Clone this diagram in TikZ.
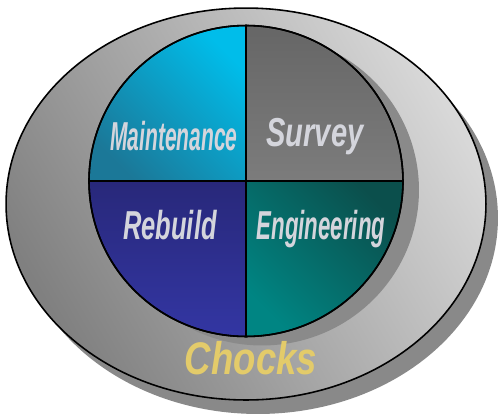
\documentclass[tikz,border=0pt]{standalone}
\usepackage{fontspec}
\setmainfont{Liberation Sans}
\usetikzlibrary{shapes}
\definecolor{ringdark}{HTML}{808080}
\definecolor{ringlight}{HTML}{D8D8D8}
\definecolor{dropgray}{HTML}{898989}
\definecolor{circshade}{HTML}{8A8A8A}
\definecolor{maintlight}{HTML}{00BDEA}
\definecolor{maintdark}{HTML}{1B7898}
\definecolor{survtop}{HTML}{666666}
\definecolor{survbot}{HTML}{7C7C7C}
\definecolor{rebtop}{HTML}{28287A}
\definecolor{rebbot}{HTML}{3336A3}
\definecolor{engtop}{HTML}{0B4F4C}
\definecolor{engbot}{HTML}{008583}
\definecolor{silver}{HTML}{D4D5DC}
\definecolor{gold}{HTML}{E3CB6A}
\tikzstyle{ring} = [draw=black, line width=0.9pt, top color=ringlight, bottom color=ringdark, shading angle=-60]
\tikzstyle{drop} = [fill=dropgray]
\tikzstyle{quad} = [draw=black, line width=0.9pt]
\tikzstyle{word} = [font=\fontsize{23}{25}\selectfont\bfseries\itshape, text=silver, inner sep=0pt]
\tikzstyle{title} = [word, font=\fontsize{26}{28}\selectfont\bfseries\itshape, text=gold]
\newcommand{\squeeze}[2]{\scalebox{#1}[1]{#2}}

\begin{document}
\begin{tikzpicture}[x=0.02cm,y=0.02cm]
  \useasboundingbox (0,0) rectangle (499,414);

  % base ellipse with its drop shadow
  \fill[drop] (258,196) ellipse [x radius=4.8cm, y radius=3.92cm];
  \path[ring] (246,210) ellipse [x radius=4.8cm, y radius=3.92cm];

  % the disc
  \coordinate (c) at (246,233);
  \fill[circshade] (262,224) ellipse [x radius=3.14cm, y radius=3.11cm];
  \path[quad, top color=maintlight, bottom color=maintdark, shading angle=-45]
    (c) -- ++(-157,0) arc[start angle=180, end angle=90, x radius=3.14cm, y radius=3.11cm] -- cycle;
  \path[quad, top color=survtop, bottom color=survbot]
    (c) -- ++(0,155.5) arc[start angle=90, end angle=0, x radius=3.14cm, y radius=3.11cm] -- cycle;
  \path[quad, top color=rebtop, bottom color=rebbot]
    (c) -- ++(-157,0) arc[start angle=180, end angle=270, x radius=3.14cm, y radius=3.11cm] -- cycle;
  \path[quad, top color=engtop, bottom color=engbot, shading angle=-45]
    (c) -- ++(157,0) arc[start angle=0, end angle=-90, x radius=3.14cm, y radius=3.11cm] -- cycle;
  \draw[quad] (c) ellipse [x radius=3.14cm, y radius=3.11cm];
  \draw[quad] (c) +(0,155.5) -- +(0,-155.5);
  \draw[quad] (c) +(-157,0) -- +(157,0);

  % labels
  \node[word] (maint) at (174,278) {\squeeze{0.52}{Maintenance}};
  \node[word] (surv) at (315,277) {\squeeze{0.72}{Survey}};
  \node[word] (reb) at (170,189) {\squeeze{0.63}{Rebuild}};
  \node[word] (eng) at (321,185) {\squeeze{0.55}{Engineering}};
  \node[title] (chocks) at (251,56) {\squeeze{0.8}{Chocks}};
\end{tikzpicture}
\end{document}
